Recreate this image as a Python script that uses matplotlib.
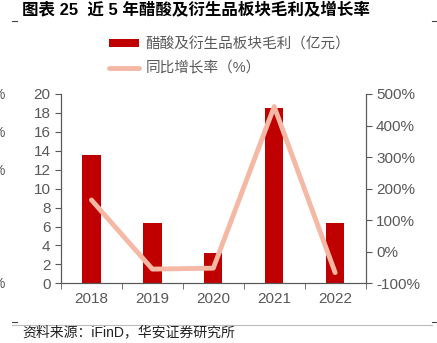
import matplotlib.pyplot as plt
import numpy as np

plt.rcParams['font.family'] = ['Liberation Sans', 'Noto Sans CJK SC', 'DejaVu Sans']

years = ['2018', '2019', '2020', '2021', '2022']
profit = [13.6, 6.4, 3.2, 18.5, 6.4]          # 亿元
growth = [164, -55, -52, 460, -66]             # %

bar_color = '#C00000'
line_color = '#F4B8A4'
axis_color = '#595959'

fig = plt.figure(figsize=(4.37, 3.43), dpi=100)
ax = fig.add_axes([0.1396, 0.174, 0.697, 0.552])
ax2 = ax.twinx()

x = np.arange(len(years))
ax.bar(x, profit, width=0.3, color=bar_color, label='醋酸及衍生品板块毛利（亿元）', zorder=2)
ax2.plot(x, growth, color=line_color, lw=3.5, solid_capstyle='round',
         label='同比增长率（%）', zorder=3)

ax.set_xlim(-0.5, 4.5)
ax.set_ylim(0, 20)
ax.set_yticks(range(0, 21, 2))
ax2.set_ylim(-100, 500)
ax2.set_yticks(range(-100, 501, 100))
ax2.set_yticklabels([f'{v}%' for v in range(-100, 501, 100)])

ax.set_xticks(x)
ax.set_xticklabels(years)
ax.set_xticks(np.arange(-0.5, 5, 1), minor=True)
ax.tick_params(axis='x', which='major', length=0, pad=6)
ax.tick_params(axis='x', which='minor', length=4, color=axis_color)
ax.tick_params(axis='y', length=4, color=axis_color)
ax2.tick_params(axis='y', length=4, color=axis_color)
for a in (ax, ax2):
    a.tick_params(labelsize=11, labelcolor=axis_color)
    a.spines['top'].set_visible(False)
    for s in ('left', 'right', 'bottom'):
        a.spines[s].set_color(axis_color)
ax2.set_zorder(ax.get_zorder() + 1)
ax2.patch.set_visible(False)

h1, l1 = ax.get_legend_handles_labels()
h2, l2 = ax2.get_legend_handles_labels()
fig.legend(h1 + h2, l1 + l2, loc='upper left', bbox_to_anchor=(0.22, 0.93),
           frameon=False, fontsize=10.5, labelcolor=axis_color,
           handlelength=2.05, handletextpad=0.45, labelspacing=0.7, handleheight=0.5)

fig.text(22 / 437, 1 - 10 / 343, '图表 25  近 5 年醋酸及衍生品板块毛利及增长率',
         fontsize=11.9, fontweight='bold', va='center', ha='left',
         family=['Liberation Sans', 'Noto Sans CJK SC'])
fig.text(22 / 437, 1 - 332 / 343, '资料来源：iFinD，华安证券研究所',
         fontsize=10, va='center', ha='left', color='#222222')

# thin rule lines at top and bottom
fig.add_artist(plt.Line2D([12 / 437, 17 / 437], [1 - 21 / 343] * 2, color='#444444', lw=0.8))
fig.add_artist(plt.Line2D([432 / 437, 437 / 437], [1 - 21 / 343] * 2, color='#444444', lw=0.8))
fig.add_artist(plt.Line2D([12 / 437, 17 / 437], [1 - 322 / 343] * 2, color='#444444', lw=0.8))
fig.add_artist(plt.Line2D([432 / 437, 437 / 437], [1 - 322 / 343] * 2, color='#444444', lw=0.8))
fig.add_artist(plt.Line2D([12 / 437, 432 / 437], [1 - 325 / 343] * 2, color='#BBBBBB', lw=0.8))

# cut-off labels at the left edge
for yy in (95, 133, 171, 284):
    fig.text(5 / 437, 1 - yy / 343, '%', fontsize=10, color=axis_color, ha='right', va='center')

fig.savefig('out.png', dpi=100)
